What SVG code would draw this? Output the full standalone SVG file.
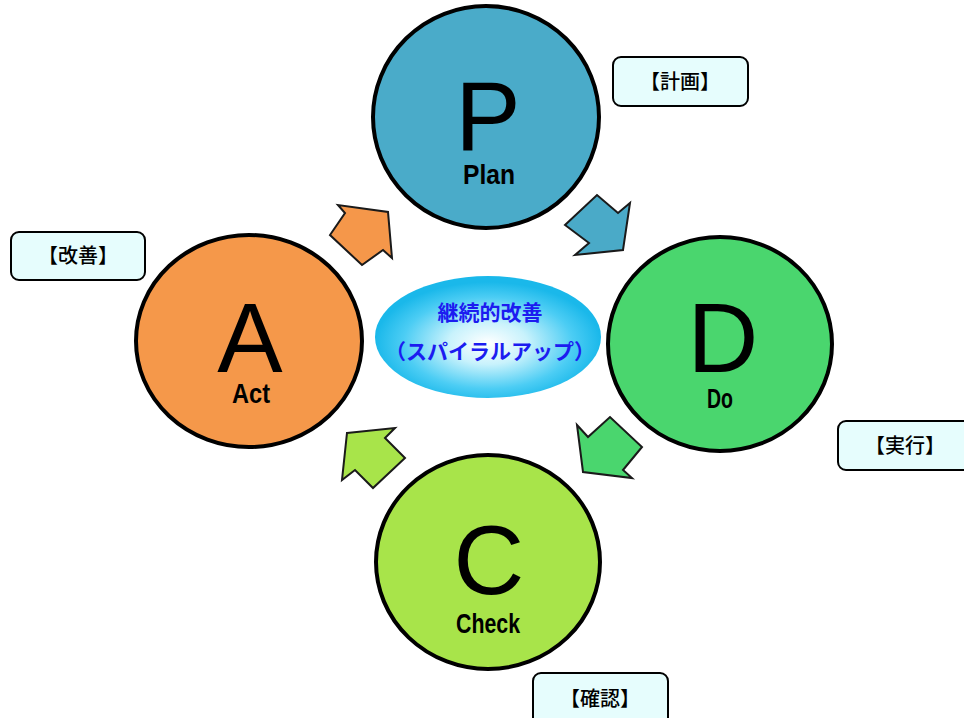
<svg xmlns="http://www.w3.org/2000/svg" width="964" height="718" viewBox="0 0 964 718">
<defs>
<radialGradient id="glow" cx="0.5" cy="0.55" r="0.5">
<stop offset="0" stop-color="#ffffff"/>
<stop offset="0.35" stop-color="#c8f2fc"/>
<stop offset="0.75" stop-color="#4ccdf4"/>
<stop offset="1" stop-color="#1ab8ea"/>
</radialGradient>
<style>
.circ{stroke:#000;stroke-width:4}
.big{font-family:"Liberation Sans",Arial,sans-serif;font-size:98px;text-anchor:middle;fill:#000}
.sub{font-family:"Liberation Sans",Arial,sans-serif;font-weight:bold;font-size:28px;text-anchor:middle;fill:#000}
.arrow{stroke:#1a1a1a;stroke-width:2;stroke-linejoin:miter}
.box{fill:#e6fdfd;stroke:#000;stroke-width:2}
.lbl{font-family:"Noto Sans CJK JP",sans-serif;font-size:20px;font-weight:500;text-anchor:middle;fill:#000}
.cen{font-family:"Noto Sans CJK JP",sans-serif;font-weight:bold;font-size:21px;text-anchor:middle;fill:#1c1cf0}
</style>
</defs>
<rect width="964" height="718" fill="#ffffff"/>
<g id="connectors">
<polygon class="arrow" fill="#f5974a" points="338,205 345,213 330,235 362,265 383,250 392,258 388,212"/>
<polygon class="arrow" fill="#4aaac8" points="565,225 597,195 618,213 630,203 623,250 575,255 589,243"/>
<polygon class="arrow" fill="#4ad66e" points="577,425 588,437 610,417 642,447 623,470 632,478 583,472"/>
<polygon class="arrow" fill="#a8e44a" points="347,433 395,428 385,438 405,458 373,488 355,470 342,480"/>
</g>
<g id="node-plan">
<ellipse class="circ" cx="486" cy="117" rx="113" ry="111" fill="#4aabc9"/>
<text class="big" x="488" y="150">P</text>
<text class="sub" x="489" y="184" textLength="52" lengthAdjust="spacingAndGlyphs">Plan</text>
</g>
<g id="node-do">
<ellipse class="circ" cx="720" cy="344" rx="112" ry="107" fill="#4ad66e"/>
<text class="big" x="723" y="372">D</text>
<text class="sub" x="720" y="408" textLength="26" lengthAdjust="spacingAndGlyphs">Do</text>
</g>
<g id="node-check">
<ellipse class="circ" cx="488" cy="562" rx="112" ry="107" fill="#a8e44a"/>
<text class="big" x="489" y="594">C</text>
<text class="sub" x="488" y="633" textLength="64" lengthAdjust="spacingAndGlyphs">Check</text>
</g>
<g id="node-act">
<ellipse class="circ" cx="249" cy="341" rx="113" ry="106" fill="#f5984a"/>
<text class="big" x="250" y="372">A</text>
<text class="sub" x="251" y="403" textLength="38" lengthAdjust="spacingAndGlyphs">Act</text>
</g>
<g id="node-center">
<ellipse cx="488" cy="337" rx="113" ry="61" fill="url(#glow)"/>
<text class="cen" x="490" y="320">継続的改善</text>
<text class="cen" x="490" y="359">（スパイラルアップ）</text>
</g>
<g id="label-plan">
<rect class="box" x="613" y="57" width="135" height="49" rx="8"/>
<text class="lbl" x="680" y="89">【計画】</text>
</g>
<g id="label-act">
<rect class="box" x="11" y="232" width="134" height="48" rx="8"/>
<text class="lbl" x="78" y="263">【改善】</text>
</g>
<g id="label-do">
<rect class="box" x="838" y="421" width="135" height="49" rx="8"/>
<text class="lbl" x="905" y="453">【実行】</text>
</g>
<g id="label-check">
<rect class="box" x="533" y="673" width="135" height="60" rx="8"/>
<text class="lbl" x="600" y="706">【確認】</text>
</g>
</svg>
